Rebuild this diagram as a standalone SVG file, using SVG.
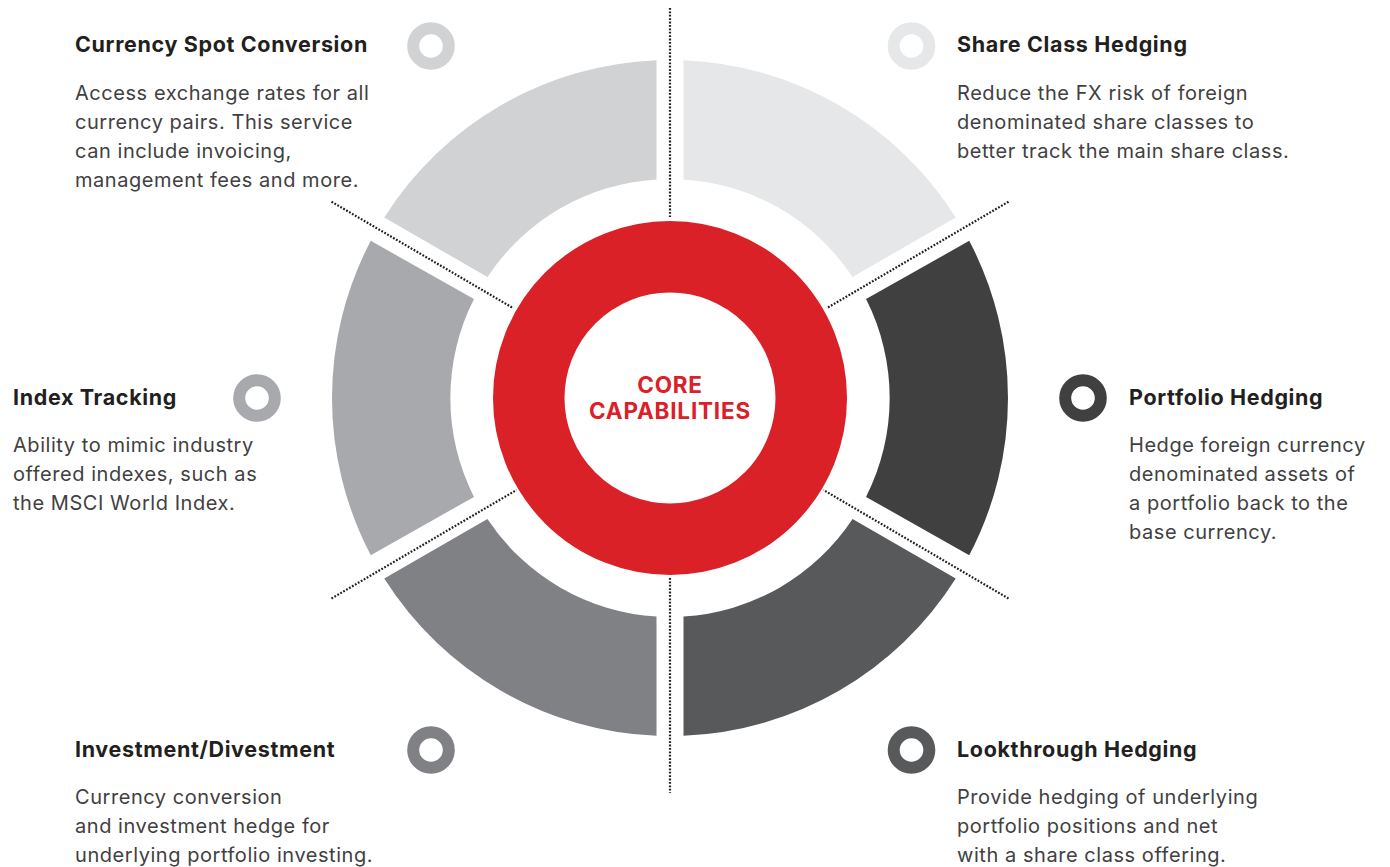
<svg xmlns="http://www.w3.org/2000/svg" width="1390" height="867" viewBox="0 0 1390 867">
<style>
.h{font-family:Inter,"Liberation Sans",sans-serif;font-weight:700;font-size:21.5px;letter-spacing:0.65px;fill:#231f20}
.b{font-family:Inter,"Liberation Sans",sans-serif;font-weight:400;font-size:20px;letter-spacing:0.55px;fill:#414042}
.core{font-family:Inter,"Liberation Sans",sans-serif;font-weight:700;font-size:22.5px;letter-spacing:0.8px;fill:#da2128;text-anchor:middle}
.ring{fill:none;stroke-width:12}
.dot{fill:none;stroke:#231f20;stroke-width:2.2;stroke-dasharray:1.8 1.6}
</style>
<rect width="1390" height="867" fill="#ffffff"/>
<g id="segments">
<path id="seg-share" d="M 683.5 60.27 A 338 338 0 0 1 955.74 217.44 L 852.56 277.01 A 219 219 0 0 0 683.5 179.42 Z" fill="#e6e7e8"/>
<path id="seg-spot" d="M 656.5 60.27 A 338 338 0 0 0 384.26 217.44 L 487.44 277.01 A 219 219 0 0 1 656.5 179.42 Z" fill="#d1d2d4"/>
<path id="seg-portfolio" d="M 969.23 240.83 A 338 338 0 0 1 969.23 555.17 L 866.05 496.92 A 219 219 0 0 0 866.05 299.08 Z" fill="#404041"/>
<path id="seg-index" d="M 370.77 240.83 A 338 338 0 0 0 370.77 555.17 L 473.95 496.92 A 219 219 0 0 1 473.95 299.08 Z" fill="#a7a9ac"/>
<path id="seg-look" d="M 683.5 735.73 A 338 338 0 0 0 955.74 578.56 L 852.56 518.99 A 219 219 0 0 1 683.5 616.58 Z" fill="#58595b"/>
<path id="seg-invest" d="M 656.5 735.73 A 338 338 0 0 1 384.26 578.56 L 487.44 518.99 A 219 219 0 0 0 656.5 616.58 Z" fill="#808184"/>
</g>
<g id="connectors">
<line class="dot" x1="670" y1="8" x2="670" y2="217"/>
<line class="dot" x1="670" y1="578" x2="670" y2="793"/>
<line class="dot" x1="331.5" y1="201.7" x2="513.5" y2="308.3"/>
<line class="dot" x1="1008.5" y1="201.7" x2="826.5" y2="308.3"/>
<line class="dot" x1="331.5" y1="598.5" x2="516.5" y2="490"/>
<line class="dot" x1="1008.5" y1="598.5" x2="823.5" y2="490"/>
</g>
<g id="core">
<circle cx="670" cy="398" r="141.25" fill="none" stroke="#da2128" stroke-width="71.5"/>
<text class="core" x="670" y="392.5">CORE</text>
<text class="core" x="670" y="418.5">CAPABILITIES</text>
</g>
<g id="node-spot">
<circle class="ring" cx="431" cy="46" r="17.8" stroke="#d1d2d4"/>
<text class="h" x="75" y="52">Currency Spot Conversion</text>
<text class="b" x="75" y="99.5">Access exchange rates for all</text>
<text class="b" x="75" y="128.5">currency pairs. This service</text>
<text class="b" x="75" y="157.5">can include invoicing,</text>
<text class="b" x="75" y="186.5">management fees and more.</text>
</g>
<g id="node-share">
<circle class="ring" cx="911.5" cy="46" r="17.8" stroke="#e6e7e8"/>
<text class="h" x="957" y="52">Share Class Hedging</text>
<text class="b" x="957" y="99.5">Reduce the FX risk of foreign</text>
<text class="b" x="957" y="128.5">denominated share classes to</text>
<text class="b" x="957" y="157.5">better track the main share class.</text>
</g>
<g id="node-index">
<circle class="ring" cx="257" cy="398" r="17.8" stroke="#a7a9ac"/>
<text class="h" x="13" y="404.5">Index Tracking</text>
<text class="b" x="13" y="452">Ability to mimic industry</text>
<text class="b" x="13" y="481">offered indexes, such as</text>
<text class="b" x="13" y="510">the MSCI World Index.</text>
</g>
<g id="node-portfolio">
<circle class="ring" cx="1083" cy="398" r="17.8" stroke="#404041"/>
<text class="h" x="1129" y="404.5">Portfolio Hedging</text>
<text class="b" x="1129" y="452">Hedge foreign currency</text>
<text class="b" x="1129" y="481">denominated assets of</text>
<text class="b" x="1129" y="510">a portfolio back to the</text>
<text class="b" x="1129" y="539">base currency.</text>
</g>
<g id="node-invest">
<circle class="ring" cx="431" cy="750" r="17.8" stroke="#808184"/>
<text class="h" x="75" y="756.7">Investment/Divestment</text>
<text class="b" x="75" y="804">Currency conversion</text>
<text class="b" x="75" y="833">and investment hedge for</text>
<text class="b" x="75" y="862">underlying portfolio investing.</text>
</g>
<g id="node-look">
<circle class="ring" cx="911.5" cy="750" r="17.8" stroke="#58595b"/>
<text class="h" x="957" y="756.7">Lookthrough Hedging</text>
<text class="b" x="957" y="804">Provide hedging of underlying</text>
<text class="b" x="957" y="833">portfolio positions and net</text>
<text class="b" x="957" y="862">with a share class offering.</text>
</g>
</svg>
